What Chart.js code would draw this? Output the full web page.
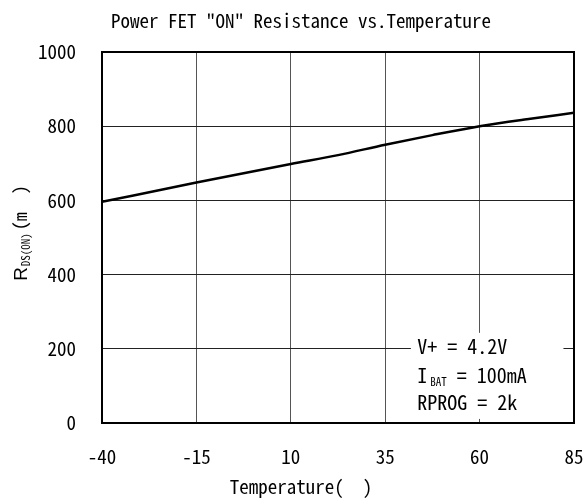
<!DOCTYPE html>
<html>
<head>
<meta charset="utf-8">
<script src="https://cdn.jsdelivr.net/npm/chart.js@4/dist/chart.umd.min.js"></script>
<style>
  html, body { margin: 0; padding: 0; background: #fff; }
  #wrap { width: 586px; height: 500px; }
</style>
</head>
<body>
<div id="wrap"><canvas id="c" width="586" height="500"></canvas></div>
<script>
// ---- data ----
const temperatures = [-40, -15, 10, 22.5, 35, 47.5, 60, 72.5, 85];
const rdsOn = [596, 648, 698, 722, 750, 776, 800, 819, 836];
const xTicks = [-40, -15, 10, 35, 60, 85];
const yTicks = [0, 200, 400, 600, 800, 1000];
const titleText = 'Power FET "ON" Resistance vs.Temperature';
const xTitle = 'Temperature(  )';
const yTitleParts = ['R', 'DS(ON)', '(m  )'];
const noteLines = [['V+ = 4.2V'], ['I', 'BAT', ' = 100mA'], ['RPROG = 2k']];

const MONO = '"Noto Sans Mono CJK JP", "Noto Sans Mono CJK SC", "Liberation Mono", monospace';

const decor = {
  id: 'decor',
  beforeDatasetsDraw(chart) {
    const {ctx, scales: {x, y}} = chart;
    // annotation box background (covers grid)
    const l = x.getPixelForValue(41.8), r = x.getPixelForValue(82.2);
    const t = y.getPixelForValue(243), b = y.getPixelForValue(11);
    ctx.save();
    ctx.fillStyle = '#fff';
    ctx.fillRect(l, t, r - l, b - t);
    ctx.restore();
  },
  afterDraw(chart) {
    const {ctx, chartArea: a, scales: {x, y}} = chart;
    ctx.save();
    // frame
    ctx.strokeStyle = '#000';
    ctx.lineWidth = 2;
    ctx.strokeRect(a.left, a.top, a.right - a.left, a.bottom - a.top);
    // title
    ctx.fillStyle = '#000';
    ctx.font = '19px ' + MONO;
    ctx.textAlign = 'center';
    ctx.textBaseline = 'middle';
    ctx.fillText(titleText, 301, 21);
    // x title
    ctx.fillText(xTitle, 301, 487);
    // y title (rotated)
    ctx.save();
    ctx.translate(20, 233);
    ctx.rotate(-Math.PI / 2);
    ctx.textAlign = 'left';
    ctx.textBaseline = 'alphabetic';
    const big = '18px ' + MONO, small = '11px ' + MONO;
    const rFont = '19px "Liberation Sans", Arial, sans-serif';
    ctx.font = rFont; const w0 = ctx.measureText(yTitleParts[0]).width;
    ctx.font = small; const w1 = ctx.measureText(yTitleParts[1]).width;
    ctx.font = big; const w2 = ctx.measureText(yTitleParts[2]).width;
    let sx = -(w0 + w1 + w2 + 4) / 2;
    const base = 6.5;
    ctx.font = rFont; ctx.fillText(yTitleParts[0], sx, base); sx += w0 + 1;
    ctx.font = small; ctx.fillText(yTitleParts[1], sx, base + 3); sx += w1 + 3;
    ctx.font = big; ctx.fillText(yTitleParts[2], sx, base);
    ctx.restore();
    // annotation text
    const tx = x.getPixelForValue(43.5);
    const ys = [y.getPixelForValue(206), y.getPixelForValue(128), y.getPixelForValue(55)];
    ctx.textAlign = 'left';
    ctx.textBaseline = 'alphabetic';
    const nf = '20px ' + MONO, sf = '11px ' + MONO;
    noteLines.forEach((parts, i) => {
      const by = ys[i] + 7;
      if (parts.length === 3) {
        ctx.font = nf; ctx.fillText(parts[0], tx, by);
        let px = tx + ctx.measureText(parts[0]).width + 3;
        ctx.font = sf; ctx.fillText(parts[1], px, by + 3);
        px += ctx.measureText(parts[1]).width;
        ctx.font = nf; ctx.fillText(parts[2], px, by);
      } else {
        ctx.font = nf; ctx.fillText(parts[0], tx, by);
      }
    });
    ctx.restore();
  }
};

new Chart(document.getElementById('c'), {
  type: 'line',
  data: {
    datasets: [{
      data: temperatures.map((t, i) => ({x: t, y: rdsOn[i]})),
      borderColor: '#000',
      borderWidth: 2.5,
      pointRadius: 0,
      fill: false,
      cubicInterpolationMode: 'monotone'
    }]
  },
  options: {
    responsive: false,
    animation: false,
    devicePixelRatio: 1,
    layout: { padding: { left: 0, right: 0, top: 52, bottom: 0 } },
    plugins: { legend: { display: false }, tooltip: { enabled: false }, title: { display: false } },
    scales: {
      x: {
        type: 'linear', min: -40, max: 85,
        afterBuildTicks: s => { s.ticks = xTicks.map(v => ({value: v})); },
        afterFit: s => { s.height = 77; s.paddingLeft = 0; s.paddingRight = 12; },
        grid: { color: '#555', lineWidth: 1, drawTicks: false },
        border: { display: false },
        ticks: { color: '#000', font: { family: MONO, size: 19 }, padding: 22, maxRotation: 0, autoSkip: false,
                 callback: v => String(v) }
      },
      y: {
        type: 'linear', min: 0, max: 1000,
        afterBuildTicks: s => { s.ticks = yTicks.map(v => ({value: v})); },
        afterFit: s => { s.width = 102; },
        grid: { color: '#222', lineWidth: 1, drawTicks: false },
        border: { display: false },
        ticks: { color: '#000', font: { family: MONO, size: 19 }, padding: 26, autoSkip: false,
                 callback: v => String(v) }
      }
    }
  },
  plugins: [decor]
});
</script>
</body>
</html>
